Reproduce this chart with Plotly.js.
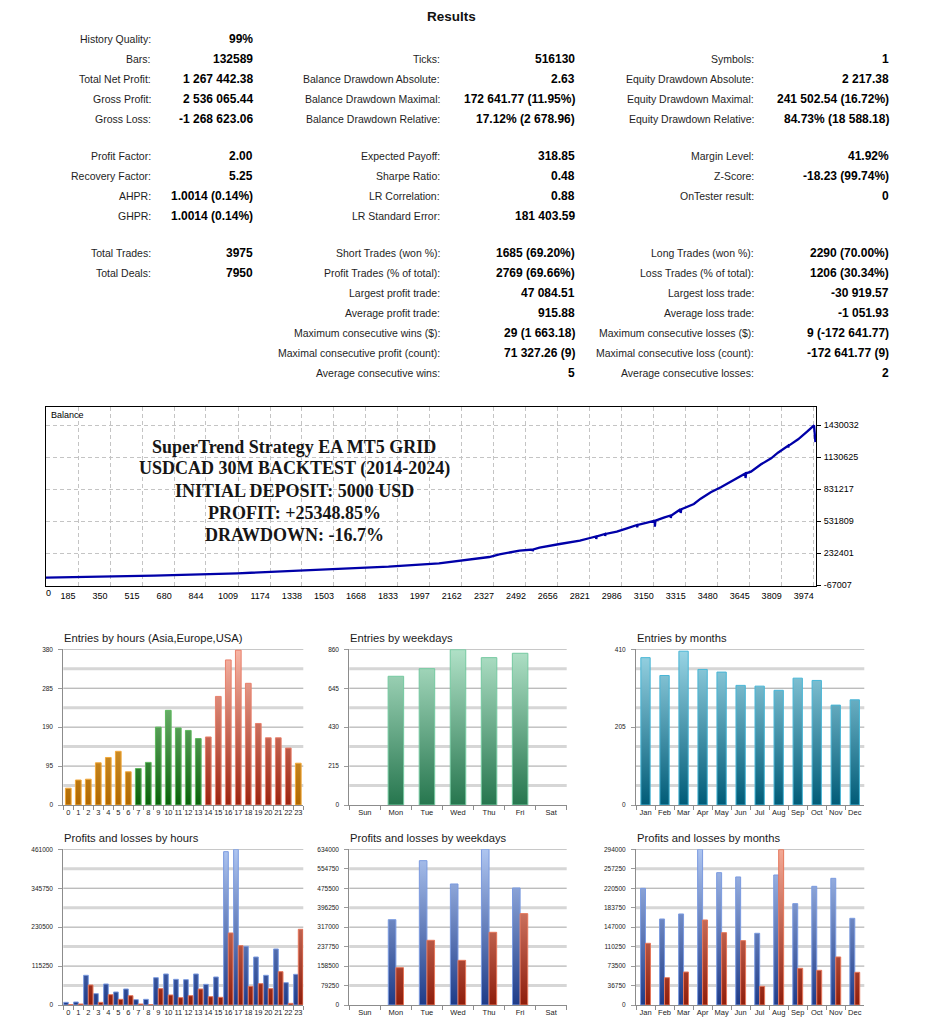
<!DOCTYPE html>
<html>
<head>
<meta charset="utf-8">
<script src="https://cdn.plot.ly/plotly-3.0.1.min.js"></script>
<style>
html,body{margin:0;padding:0;background:#fff;}
#chart{width:951px;height:1023px;}
</style>
</head>
<body>
<div id="chart"></div>
<script>
// ---------------- DATA ----------------
// Results table
const col1Labels = ['History Quality:','Bars:','Total Net Profit:','Gross Profit:','Gross Loss:','Profit Factor:','Recovery Factor:','AHPR:','GHPR:','Total Trades:','Total Deals:'];
const col1Values = ['99%','132589','1 267 442.38','2 536 065.44','-1 268 623.06','2.00','5.25','1.0014 (0.14%)','1.0014 (0.14%)','3975','7950'];
const col1Rows = [0,1,2,3,4,5,6,7,8,9,10];
const col2Labels = ['Ticks:','Balance Drawdown Absolute:','Balance Drawdown Maximal:','Balance Drawdown Relative:','Expected Payoff:','Sharpe Ratio:','LR Correlation:','LR Standard Error:','Short Trades (won %):','Profit Trades (% of total):','Largest profit trade:','Average profit trade:','Maximum consecutive wins ($):','Maximal consecutive profit (count):','Average consecutive wins:'];
const col2Values = ['516130','2.63','172 641.77 (11.95%)','17.12% (2 678.96)','318.85','0.48','0.88','181 403.59','1685 (69.20%)','2769 (69.66%)','47 084.51','915.88','29 (1 663.18)','71 327.26 (9)','5'];
const col2Rows = [1,2,3,4,5,6,7,8,9,10,11,12,13,14,15];
const col3Labels = ['Symbols:','Equity Drawdown Absolute:','Equity Drawdown Maximal:','Equity Drawdown Relative:','Margin Level:','Z-Score:','OnTester result:','Long Trades (won %):','Loss Trades (% of total):','Largest loss trade:','Average loss trade:','Maximum consecutive losses ($):','Maximal consecutive loss (count):','Average consecutive losses:'];
const col3Values = ['1','2 217.38','241 502.54 (16.72%)','84.73% (18 588.18)','41.92%','-18.23 (99.74%)','0','2290 (70.00%)','1206 (30.34%)','-30 919.57','-1 051.93','9 (-172 641.77)','-172 641.77 (9)','2'];
const col3Rows = [1,2,3,4,5,6,7,9,10,11,12,13,14,15];

// Balance curve (trade number, balance)
const balanceTrade = [0,161,576,1006,1437,1784,2044,2303,2355,2459,2526,2527,2530,2562,2666,2770,2822,2853,2854,2857,2899,2900,2903,2960,3012,3064,3065,3068,3116,3155,3156,3159,3202,3237,3238,3241,3288,3289,3292,3357,3392,3444,3496,3548,3600,3622,3623,3626,3651,3703,3755,3790,3842,3843,3846,3894,3940,3976,3983];
const balanceValue = [5000,9000,22900,45300,76100,107000,138800,197800,223000,256700,268000,253900,268500,284800,319400,350300,375600,389600,366200,390000,413000,394300,413500,434500,466300,497200,475700,497500,518700,537400,481300,538000,565500,586100,562700,586500,644100,609500,644500,693700,743300,803100,849900,906100,955700,979000,936900,979500,995900,1065100,1121300,1173700,1239200,1222300,1239500,1299000,1370200,1430032,1272442];
const balanceXTicks = [185,350,515,680,844,1009,1174,1338,1503,1668,1833,1997,2162,2327,2492,2656,2821,2986,3150,3315,3480,3645,3809,3974];
const balanceYTicks = [-67007,232401,531809,831217,1130625,1430032];

// Bar charts
const hourLabels = ['0','1','2','3','4','5','6','7','8','9','10','11','12','13','14','15','16','17','18','19','20','21','22','23'];
const hourSession = ['asia','asia','asia','asia','asia','asia','asia','europe','europe','europe','europe','europe','europe','europe','usa','usa','usa','usa','usa','usa','usa','usa','usa','asia'];
const entriesByHour = [41,61,63,103,116,131,81,89,104,190,231,188,182,162,166,265,354,378,297,199,164,164,139,102];
const weekdayLabels = ['Sun','Mon','Tue','Wed','Thu','Fri','Sat'];
const entriesByWeekday = [0,711,753,858,814,838,0];
const monthLabels = ['Jan','Feb','Mar','Apr','May','Jun','Jul','Aug','Sep','Oct','Nov','Dec'];
const entriesByMonth = [388,341,405,357,350,315,313,302,334,328,263,277];
const profitsByHour = [7900,8900,87900,33600,62200,38500,47400,15800,16800,80900,91800,76000,75000,91800,61200,82900,454000,461000,173700,142100,87900,165800,66100,90800];
const lossesByHour = [1000,3000,59200,7900,30600,16800,27600,3000,1000,48400,29600,21700,27600,47400,24700,22700,213200,175700,55300,63200,48400,98700,4900,224100];
const profitsByWeekday = [0,347500,587800,492800,634000,476500,0];
const lossesByWeekday = [0,152000,263400,181900,296000,372000,0];
const profitsByMonth = [220300,162400,171900,294000,249900,241800,135400,245500,191400,224100,239200,163700];
const lossesByMonth = [116500,51600,62300,160500,136600,121500,35300,293400,69300,65500,90700,61700];

// Y-axis tick labels of the bar charts
const entriesHourAxis = [0,95,190,285,380];
const entriesWeekAxis = [0,215,430,645,860];
const entriesMonthAxis = [0,205,410];
const plHourAxis = [0,115250,230500,345750,461000];
const plWeekAxis = [0,79250,158500,237750,317000,396250,475500,554750,634000];
const plMonthAxis = [0,36750,73500,110250,147000,183750,220500,257250,294000];

// ---------------- STYLE ----------------
const W = 951, H = 1023;
const px = v => v / W;
const py = v => 1 - v / H;
const SANS = 'Liberation Sans, Arial, sans-serif';

const palette = {
  asia:   {top:'#fbcb6a', bottom:'#b06800', solid:'#d99427', line:'#f2a93b'},
  europe: {top:'#a2dca2', bottom:'#0a600a', solid:'#3f9a3f', line:'#5cb85c'},
  usa:    {top:'#f8b6a6', bottom:'#9c2410', solid:'#cc5a44', line:'#e8806c'},
  week:   {top:'#b0e1c7', bottom:'#26764e', solid:'#5fae86', line:'#74c9a0'},
  month:  {top:'#9ad5e5', bottom:'#005b77', solid:'#3a97b3', line:'#48b6d6'},
  profit: {top:'#aec5f0', bottom:'#1e3b88', solid:'#5f7fc8', line:'#7b9be0'},
  loss:   {top:'#f4aa96', bottom:'#8e1d0b', solid:'#c75238', line:'#e5765a'}
};

// ---------------- TRACES ----------------
const traces = [];
const barKeys = {};

traces.push({
  type:'scatter', mode:'lines', x: balanceTrade, y: balanceValue,
  xaxis:'x', yaxis:'y', line:{color:'#0000a8', width:2.3}, hoverinfo:'skip'
});

function addBar(n, cats, vals, key, width, offset) {
  const keys = Array.isArray(key) ? key : null;
  const t = {
    type:'bar', x: cats, y: vals, xaxis:'x'+n, yaxis:'y'+n, width: width,
    marker:{
      color: keys ? keys.map(k => palette[k].solid) : palette[key].solid,
      line:{
        color: keys ? keys.map(k => palette[k].line) : palette[key].line,
        width: vals.map(v => v > 0 ? 1 : 0)
      }
    },
    hoverinfo:'skip'
  };
  if (offset !== undefined) t.offset = offset;
  barKeys[traces.length] = key;
  traces.push(t);
}

addBar(2, hourLabels, entriesByHour, hourSession, 0.57);
addBar(3, weekdayLabels, entriesByWeekday, 'week', 0.5);
addBar(4, monthLabels, entriesByMonth, 'month', 0.49);
addBar(5, hourLabels, profitsByHour, 'profit', 0.467, -0.467);
addBar(5, hourLabels, lossesByHour, 'loss', 0.467, 0);
addBar(6, weekdayLabels, profitsByWeekday, 'profit', 0.245, -0.245);
addBar(6, weekdayLabels, lossesByWeekday, 'loss', 0.245, 0);
addBar(7, monthLabels, profitsByMonth, 'profit', 0.26, -0.26);
addBar(7, monthLabels, lossesByMonth, 'loss', 0.26, 0);

// ---------------- LAYOUT ----------------
const annotations = [];
const shapes = [];

function ann(text, x, y, opts) {
  annotations.push(Object.assign({
    text: text, x: px(x), y: py(y), xref:'paper', yref:'paper',
    showarrow:false, xanchor:'right', yanchor:'middle',
    font:{family:SANS, size:10.5, color:'#1e1e1e'}
  }, opts || {}));
}

// Title
ann('<b>Results</b>', 451, 17, {xanchor:'center', font:{family:SANS, size:13.5, color:'#111'}});

// Results table
const tableRowY = [39,59,79,99,119,156,176,196,216,253,273,293,313,333,353,373];
const colLabelX = [153,442,756];
const colValueX = [255,577,891];
[[col1Labels,col1Values,col1Rows],[col2Labels,col2Values,col2Rows],[col3Labels,col3Values,col3Rows]].forEach((c, ci) => {
  c[0].forEach((lab, i) => {
    const y = tableRowY[c[2][i]];
    ann(lab, colLabelX[ci], y);
    ann('<b>' + c[1][i] + '</b>', colValueX[ci], y, {font:{family:SANS, size:12, color:'#000'}});
  });
});

// Balance chart texts
ann('Balance', 49, 415, {xanchor:'left', font:{family:SANS, size:9, color:'#000'}});
ann('0', 48, 592.5, {xanchor:'center', font:{family:SANS, size:9, color:'#000'}});
const overlayLines = ['SuperTrend Strategy EA MT5 GRID','USDCAD 30M BACKTEST (2014-2024)','INITIAL DEPOSIT: 5000 USD','PROFIT: +25348.85%','DRAWDOWN: -16.7%'];
const overlayY = [446.5, 468.5, 490.5, 512.5, 534.5];
overlayLines.forEach((t, i) => ann('<b>' + t + '</b>', 294, overlayY[i], {xanchor:'center', font:{family:'Liberation Serif, Times New Roman, serif', size:18, color:'#161616'}}));

const layout = {
  width: W, height: H,
  margin:{l:0, r:0, t:0, b:0, pad:0},
  paper_bgcolor:'#ffffff', plot_bgcolor:'#ffffff',
  showlegend:false, barmode:'overlay',
  font:{family:SANS, color:'#222'},
  annotations: annotations, shapes: shapes,
  xaxis:{
    domain:[px(46), px(816)], range:[20, 3986], anchor:'y',
    tickmode:'array', tickvals: balanceXTicks, ticktext: balanceXTicks.map(String),
    ticks:'', ticklabelshift:-10, ticklabelstandoff:1, tickangle:0,
    showgrid:true, gridcolor:'#c4c4c4', gridwidth:1, griddash:'4px,3px',
    showline:true, mirror:true, linecolor:'#000', linewidth:1, zeroline:false,
    tickfont:{family:SANS, size:9, color:'#000'}, fixedrange:true
  },
  yaxis:{
    domain:[py(586), py(407)], range:[-73558, 1601256], anchor:'x', side:'right',
    tickmode:'array', tickvals: balanceYTicks, ticktext: balanceYTicks.map(String),
    ticks:'outside', ticklen:4, tickcolor:'#000', ticklabelstandoff:1,
    showgrid:true, gridcolor:'#c4c4c4', gridwidth:1, griddash:'4px,3px',
    showline:true, mirror:true, linecolor:'#000', linewidth:1, zeroline:false,
    tickfont:{family:SANS, size:9, color:'#000'}, fixedrange:true
  }
};

const panels = [
  {n:2, l:63.3,  r:303.3, t:649.3, b:805,  title:'Entries by hours (Asia,Europe,USA)', cats:hourLabels,    axis:entriesHourAxis},
  {n:3, l:349.3, r:566.7, t:649.3, b:805,  title:'Entries by weekdays',                cats:weekdayLabels, axis:entriesWeekAxis},
  {n:4, l:636,   r:864.3, t:649.3, b:805,  title:'Entries by months',                  cats:monthLabels,   axis:entriesMonthAxis},
  {n:5, l:63.3,  r:303.3, t:849.3, b:1005, title:'Profits and losses by hours',        cats:hourLabels,    axis:plHourAxis},
  {n:6, l:349.3, r:566.7, t:849.3, b:1005, title:'Profits and losses by weekdays',     cats:weekdayLabels, axis:plWeekAxis},
  {n:7, l:636,   r:864.3, t:849.3, b:1005, title:'Profits and losses by months',       cats:monthLabels,   axis:plMonthAxis}
];

panels.forEach(p => {
  const top = p.axis[p.axis.length - 1];
  layout['xaxis' + p.n] = {
    domain:[px(p.l), px(p.r)], anchor:'y' + p.n, type:'category',
    categoryorder:'array', categoryarray:p.cats,
    tickson:'boundaries', ticks:'outside', ticklen:4, tickcolor:'#8c8c8c', tickwidth:1,
    showline:true, linecolor:'#8c8c8c', linewidth:1, showgrid:false, zeroline:false,
    ticklabelstandoff:0, tickangle:0,
    tickfont:{family:SANS, size:7.5, color:'#222'}, fixedrange:true
  };
  layout['yaxis' + p.n] = {
    domain:[py(p.b), py(p.t)], anchor:'x' + p.n, range:[0, top],
    tickmode:'array', tickvals:p.axis, ticktext:p.axis.map(String),
    ticks:'outside', ticklen:4, tickcolor:'#9a9a9a', ticklabelstandoff:4,
    showline:true, linecolor:'#8c8c8c', linewidth:1, showgrid:false, zeroline:false,
    tickfont:{family:SANS, size:6.5, color:'#222'}, fixedrange:true
  };
  // horizontal guide lines at every eighth of the scale
  for (let k = 1; k <= 8; k++) {
    const v = top * k / 8;
    const dark = (k % 2 === 0);
    shapes.push({
      type:'line', layer:'below', xref:'x' + p.n + ' domain', x0:0, x1:1,
      yref:'y' + p.n, y0:v, y1:v,
      line:{color: dark ? '#a3a3a3' : '#d6d6d6', width: dark ? 1 : 3}
    });
  }
  ann(p.title, p.l - 1.5, p.t - 11.5, {xanchor:'left', font:{family:SANS, size:11.2, color:'#1a1a1a'}});
});

// ---------------- DRAW ----------------
Plotly.newPlot('chart', traces, layout, {staticPlot:true, displayModeBar:false}).then(gd => {
  try {
    const svg = gd.querySelector('svg.main-svg');
    let defs = svg.querySelector('defs');
    const NS = 'http://www.w3.org/2000/svg';
    if (!defs) { defs = document.createElementNS(NS, 'defs'); svg.insertBefore(defs, svg.firstChild); }
    const made = {};
    const gradId = (key, h) => {
      const id = 'grad_' + key + '_' + Math.round(h);
      if (!made[id]) {
        const lg = document.createElementNS(NS, 'linearGradient');
        lg.setAttribute('id', id);
        lg.setAttribute('gradientUnits', 'userSpaceOnUse');
        lg.setAttribute('x1', '0'); lg.setAttribute('y1', '0');
        lg.setAttribute('x2', '0'); lg.setAttribute('y2', String(h));
        [['0', palette[key].top], ['1', palette[key].bottom]].forEach(s => {
          const st = document.createElementNS(NS, 'stop');
          st.setAttribute('offset', s[0]);
          st.setAttribute('stop-color', s[1]);
          lg.appendChild(st);
        });
        defs.appendChild(lg);
        made[id] = true;
      }
      return id;
    };
    gd.querySelectorAll('.barlayer .trace').forEach(tg => {
      const cd = tg.__data__;
      if (!cd || !cd[0] || !cd[0].trace) return;
      const tr = cd[0].trace;
      const key = barKeys[tr.index];
      if (!key) return;
      const ax = gd._fullLayout[tr.yaxis.replace('y', 'yaxis')];
      const h = ax._length;
      tg.querySelectorAll('g.point').forEach((g, j) => {
        const d = g.__data__;
        const i = (d && d.i !== undefined) ? d.i : j;
        const k = Array.isArray(key) ? key[i] : key;
        const path = g.querySelector('path');
        if (path && k) path.style.fill = 'url(#' + gradId(k, h) + ')';
      });
    });
  } catch (e) { /* keep solid colours */ }
});
</script>
</body>
</html>
